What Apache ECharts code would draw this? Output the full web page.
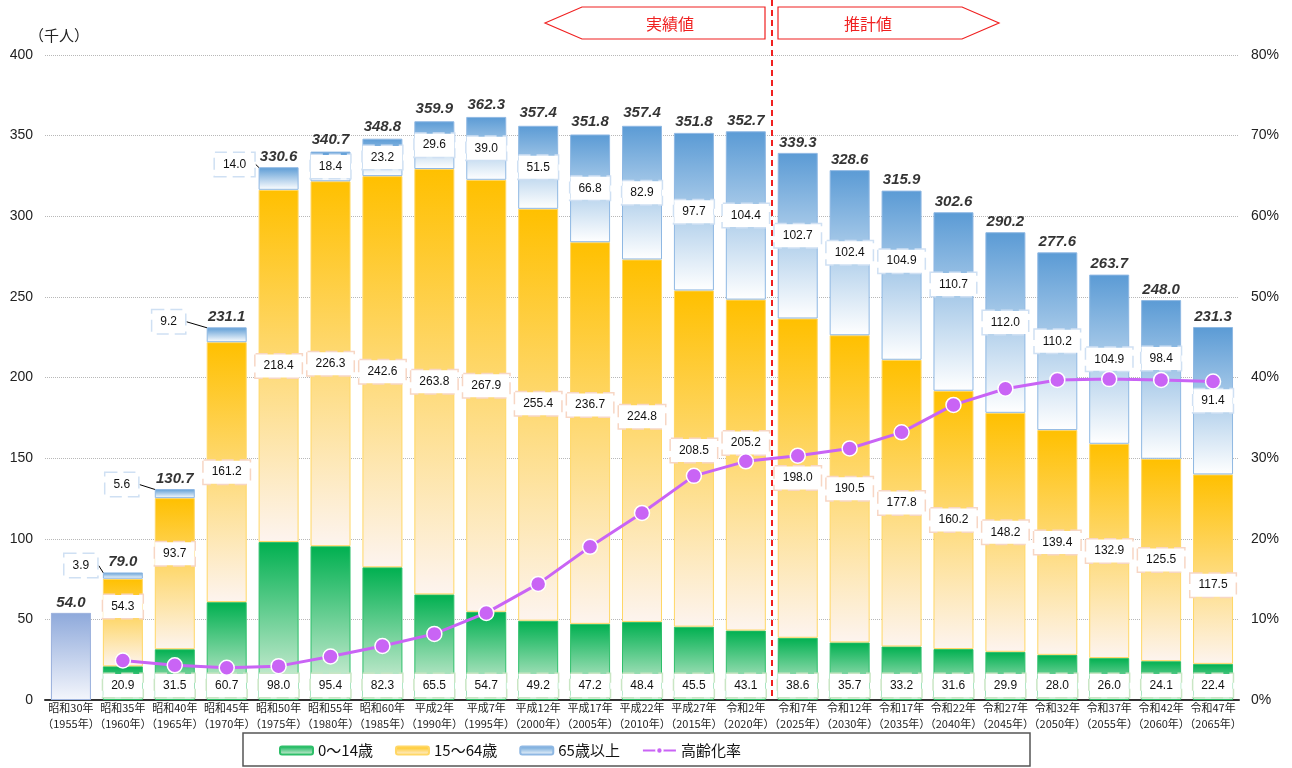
<!DOCTYPE html>
<html>
<head>
<meta charset="utf-8">
<script src="https://cdn.jsdelivr.net/npm/echarts@6/dist/echarts.min.js"></script>
<style>
  html, body { margin: 0; padding: 0; background: #fff; }
  #chart { width: 1292px; height: 768px; }
</style>
</head>
<body>
<div id="chart"></div>
<script>
// Categories (era year / western year)
const eraLabels = ['昭和30年','昭和35年','昭和40年','昭和45年','昭和50年','昭和55年','昭和60年',
  '平成2年','平成7年','平成12年','平成17年','平成22年','平成27年',
  '令和2年','令和7年','令和12年','令和17年','令和22年','令和27年','令和32年','令和37年','令和42年','令和47年'];
const westernYears = ['1955','1960','1965','1970','1975','1980','1985','1990','1995','2000','2005','2010',
  '2015','2020','2025','2030','2035','2040','2045','2050','2055','2060','2065'];

// Population by age group (thousand persons)
const age0to14 = [null, 20.9, 31.5, 60.7, 98.0, 95.4, 82.3, 65.5, 54.7, 49.2, 47.2, 48.4, 45.5, 43.1,
  38.6, 35.7, 33.2, 31.6, 29.9, 28.0, 26.0, 24.1, 22.4];
const age15to64 = [null, 54.3, 93.7, 161.2, 218.4, 226.3, 242.6, 263.8, 267.9, 255.4, 236.7, 224.8, 208.5, 205.2,
  198.0, 190.5, 177.8, 160.2, 148.2, 139.4, 132.9, 125.5, 117.5];
const age65plus = [null, 3.9, 5.6, 9.2, 14.0, 18.4, 23.2, 29.6, 39.0, 51.5, 66.8, 82.9, 97.7, 104.4,
  102.7, 102.4, 104.9, 110.7, 112.0, 110.2, 104.9, 98.4, 91.4];
// Total only (no age breakdown available)
const totalOnly = [54.0, null, null, null, null, null, null, null, null, null, null, null, null, null,
  null, null, null, null, null, null, null, null, null];
// Totals shown above each bar
const totals = [54.0, 79.0, 130.7, 231.1, 330.6, 340.7, 348.8, 359.9, 362.3, 357.4, 351.8, 357.4, 351.8, 352.7,
  339.3, 328.6, 315.9, 302.6, 290.2, 277.6, 263.7, 248.0, 231.3];
// Aging rate (%)
const agingRate = [null, 4.9, 4.3, 4.0, 4.2, 5.4, 6.7, 8.2, 10.8, 14.4, 19.0, 23.2, 27.8, 29.6,
  30.3, 31.2, 33.2, 36.6, 38.6, 39.7, 39.8, 39.7, 39.5];

// Axis ticks
const leftTicks = { min: 0, max: 400, interval: 50 };
const rightTicks = { min: 0, max: 80, interval: 10 };

const categories = eraLabels.map((e, i) => e + '\n（' + westernYears[i] + '年）');

// Small 65+ segments get their labels pulled out to the left with a leader line
const leaderShift = { 1: [-42, -10], 2: [-53, -9], 3: [-58, -13], 4: [-44, -14] };
// Vertical nudges that keep value boxes clear of the rate line
const workingNudge = { 1: -16, 2: -20, 8: -10, 9: -11, 10: -28, 11: -24, 12: -8, 13: -22, 22: 16 };
const elderlyNudge = { 16: -14, 17: -17, 21: -21 };

const grad = (top, bottom) => new echarts.graphic.LinearGradient(0, 0, 0, 1, [
  { offset: 0, color: top }, { offset: 1, color: bottom }
]);

const boxLabel = (border, position, distance) => ({
  show: true,
  position: position,
  distance: distance,
  color: '#111',
  fontSize: 12,
  fontFamily: 'Liberation Sans, Arial, sans-serif',
  backgroundColor: '#fff',
  borderColor: border,
  borderWidth: 1.5,
  borderType: 'dashed',
  padding: [6, 8, 5, 8],
  formatter: p => p.value == null ? '' : Number(p.value).toFixed(1)
});

const elderlyData = age65plus.map((v, i) => leaderShift[i]
  ? { value: v, labelLine: { show: true, lineStyle: { color: '#000', width: 1 } } }
  : v);

const chart = echarts.init(document.getElementById('chart'), null, { renderer: 'canvas' });

const option = {
  animation: false,
  backgroundColor: '#fff',
  textStyle: { fontFamily: '"Noto Sans CJK JP", "Liberation Sans", sans-serif' },
  grid: { left: 45, right: 53, top: 55, bottom: 68, containLabel: false },
  legend: {
    type: 'plain',
    orient: 'horizontal',
    left: 279, bottom: 10,
    padding: 0,
    itemWidth: 33, itemHeight: 8, itemGap: 22,
    textStyle: { fontSize: 15, color: '#111', fontFamily: '"Noto Sans CJK JP", sans-serif' },
    data: ['0～14歳', '15～64歳', '65歳以上', '高齢化率']
  },
  xAxis: {
    type: 'category',
    data: categories,
    axisLine: { lineStyle: { color: '#333', width: 2 } },
    axisTick: { show: false },
    axisLabel: { color: '#222', fontSize: 11, lineHeight: 16, margin: 0, interval: 0,
      fontFamily: '"Noto Sans CJK JP", sans-serif' }
  },
  yAxis: [
    {
      type: 'value', min: leftTicks.min, max: leftTicks.max, interval: leftTicks.interval,
      name: '（千人）', nameLocation: 'end', nameGap: 12,
      nameTextStyle: { color: '#222', fontSize: 15, align: 'left', padding: [0, 0, 0, -16] },
      axisLine: { show: false }, axisTick: { show: false },
      axisLabel: { color: '#222', fontSize: 14, margin: 12, fontFamily: 'Liberation Sans, Arial, sans-serif' },
      splitLine: { lineStyle: { color: '#b8b8b8', type: 'dotted', width: 1 } }
    },
    {
      type: 'value', min: rightTicks.min, max: rightTicks.max, interval: rightTicks.interval,
      position: 'right',
      axisLine: { show: false }, axisTick: { show: false },
      axisLabel: { color: '#222', fontSize: 14, margin: 12, formatter: '{value}%',
        fontFamily: 'Liberation Sans, Arial, sans-serif' },
      splitLine: { show: false }
    }
  ],
  series: [
    {
      name: '総数', type: 'bar', stack: 'pop', barWidth: 40,
      data: totalOnly,
      itemStyle: { color: grad('#8ea9db', '#f4f6fc'), borderColor: '#9fb4de', borderWidth: 1 }
    },
    {
      name: '0～14歳', type: 'bar', stack: 'pop', barWidth: 40,
      data: age0to14,
      itemStyle: { color: grad('#00b050', '#e4f3e3'), borderColor: '#2fbf6a', borderWidth: 1 },
      label: boxLabel('#c9e6c4', 'insideBottom', 3)
    },
    {
      name: '15～64歳', type: 'bar', stack: 'pop', barWidth: 40,
      data: age15to64,
      itemStyle: { color: grad('#ffc000', '#fdf4ef'), borderColor: '#ffd766', borderWidth: 1 },
      label: boxLabel('#f7d6c4', 'inside', 0),
      labelLayout: p => {
        const d = workingNudge[p.dataIndex];
        return d ? { dy: d } : {};
      }
    },
    {
      name: '65歳以上', type: 'bar', stack: 'pop', barWidth: 40,
      data: elderlyData,
      itemStyle: { color: grad('#5b9bd5', '#ffffff'), borderColor: '#8fb8e3', borderWidth: 1 },
      label: boxLabel('#cfe0f3', 'inside', 0),
      labelLayout: p => {
        const s = leaderShift[p.dataIndex];
        if (s) return { dx: s[0], dy: s[1] };
        const d = elderlyNudge[p.dataIndex];
        return d ? { dy: d } : {};
      }
    },
    {
      name: '合計', type: 'scatter', data: totals, symbolSize: 0, silent: true,
      label: {
        show: true, position: 'top', distance: 3,
        color: '#000', fontSize: 15, fontWeight: 'bold', fontStyle: 'italic',
        fontFamily: 'Liberation Sans, Arial, sans-serif',
        formatter: p => Number(p.value).toFixed(1)
      },
      z: 5
    },
    {
      name: '高齢化率', type: 'line', yAxisIndex: 1, data: agingRate,
      color: '#c964f5',
      lineStyle: { color: '#c964f5', width: 3 },
      symbol: 'circle', symbolSize: 15,
      itemStyle: { color: '#c964f5', borderColor: '#fff', borderWidth: 1.5 },
      z: 3
    }
  ]
};

chart.setOption(option);

// Divider between recorded and projected values, plus the two headers
const xA = chart.convertToPixel({ xAxisIndex: 0 }, categories[13]);
const xB = chart.convertToPixel({ xAxisIndex: 0 }, categories[14]);
const yZero = chart.convertToPixel({ yAxisIndex: 0 }, 0);
const divX = Math.round((xA + xB) / 2);
const red = '#f02020';

chart.setOption({
  graphic: [
    {
      type: 'rect', z: -1, silent: true,
      shape: { x: 243, y: 733, width: 787, height: 33 },
      style: { fill: '#fff', stroke: '#555', lineWidth: 1.5 }
    },
    {
      type: 'line', z: 20, silent: true,
      shape: { x1: divX, y1: 0, x2: divX, y2: yZero },
      style: { stroke: red, lineWidth: 2, lineDash: [6, 4] }
    },
    {
      type: 'polygon', silent: true,
      shape: { points: [[divX - 227, 23], [divX - 190, 7], [divX - 7, 7], [divX - 7, 39], [divX - 190, 39]] },
      style: { fill: '#fff', stroke: red, lineWidth: 1.2 }
    },
    {
      type: 'text', silent: true,
      style: { x: divX - 102, y: 24, text: '実績値', fill: red, fontSize: 16,
        fontFamily: '"Noto Sans CJK JP", sans-serif', align: 'center', verticalAlign: 'middle' }
    },
    {
      type: 'polygon', silent: true,
      shape: { points: [[divX + 6, 7], [divX + 190, 7], [divX + 227, 23], [divX + 190, 39], [divX + 6, 39]] },
      style: { fill: '#fff', stroke: red, lineWidth: 1.2 }
    },
    {
      type: 'text', silent: true,
      style: { x: divX + 96, y: 24, text: '推計値', fill: red, fontSize: 16,
        fontFamily: '"Noto Sans CJK JP", sans-serif', align: 'center', verticalAlign: 'middle' }
    }
  ]
});
</script>
</body>
</html>
